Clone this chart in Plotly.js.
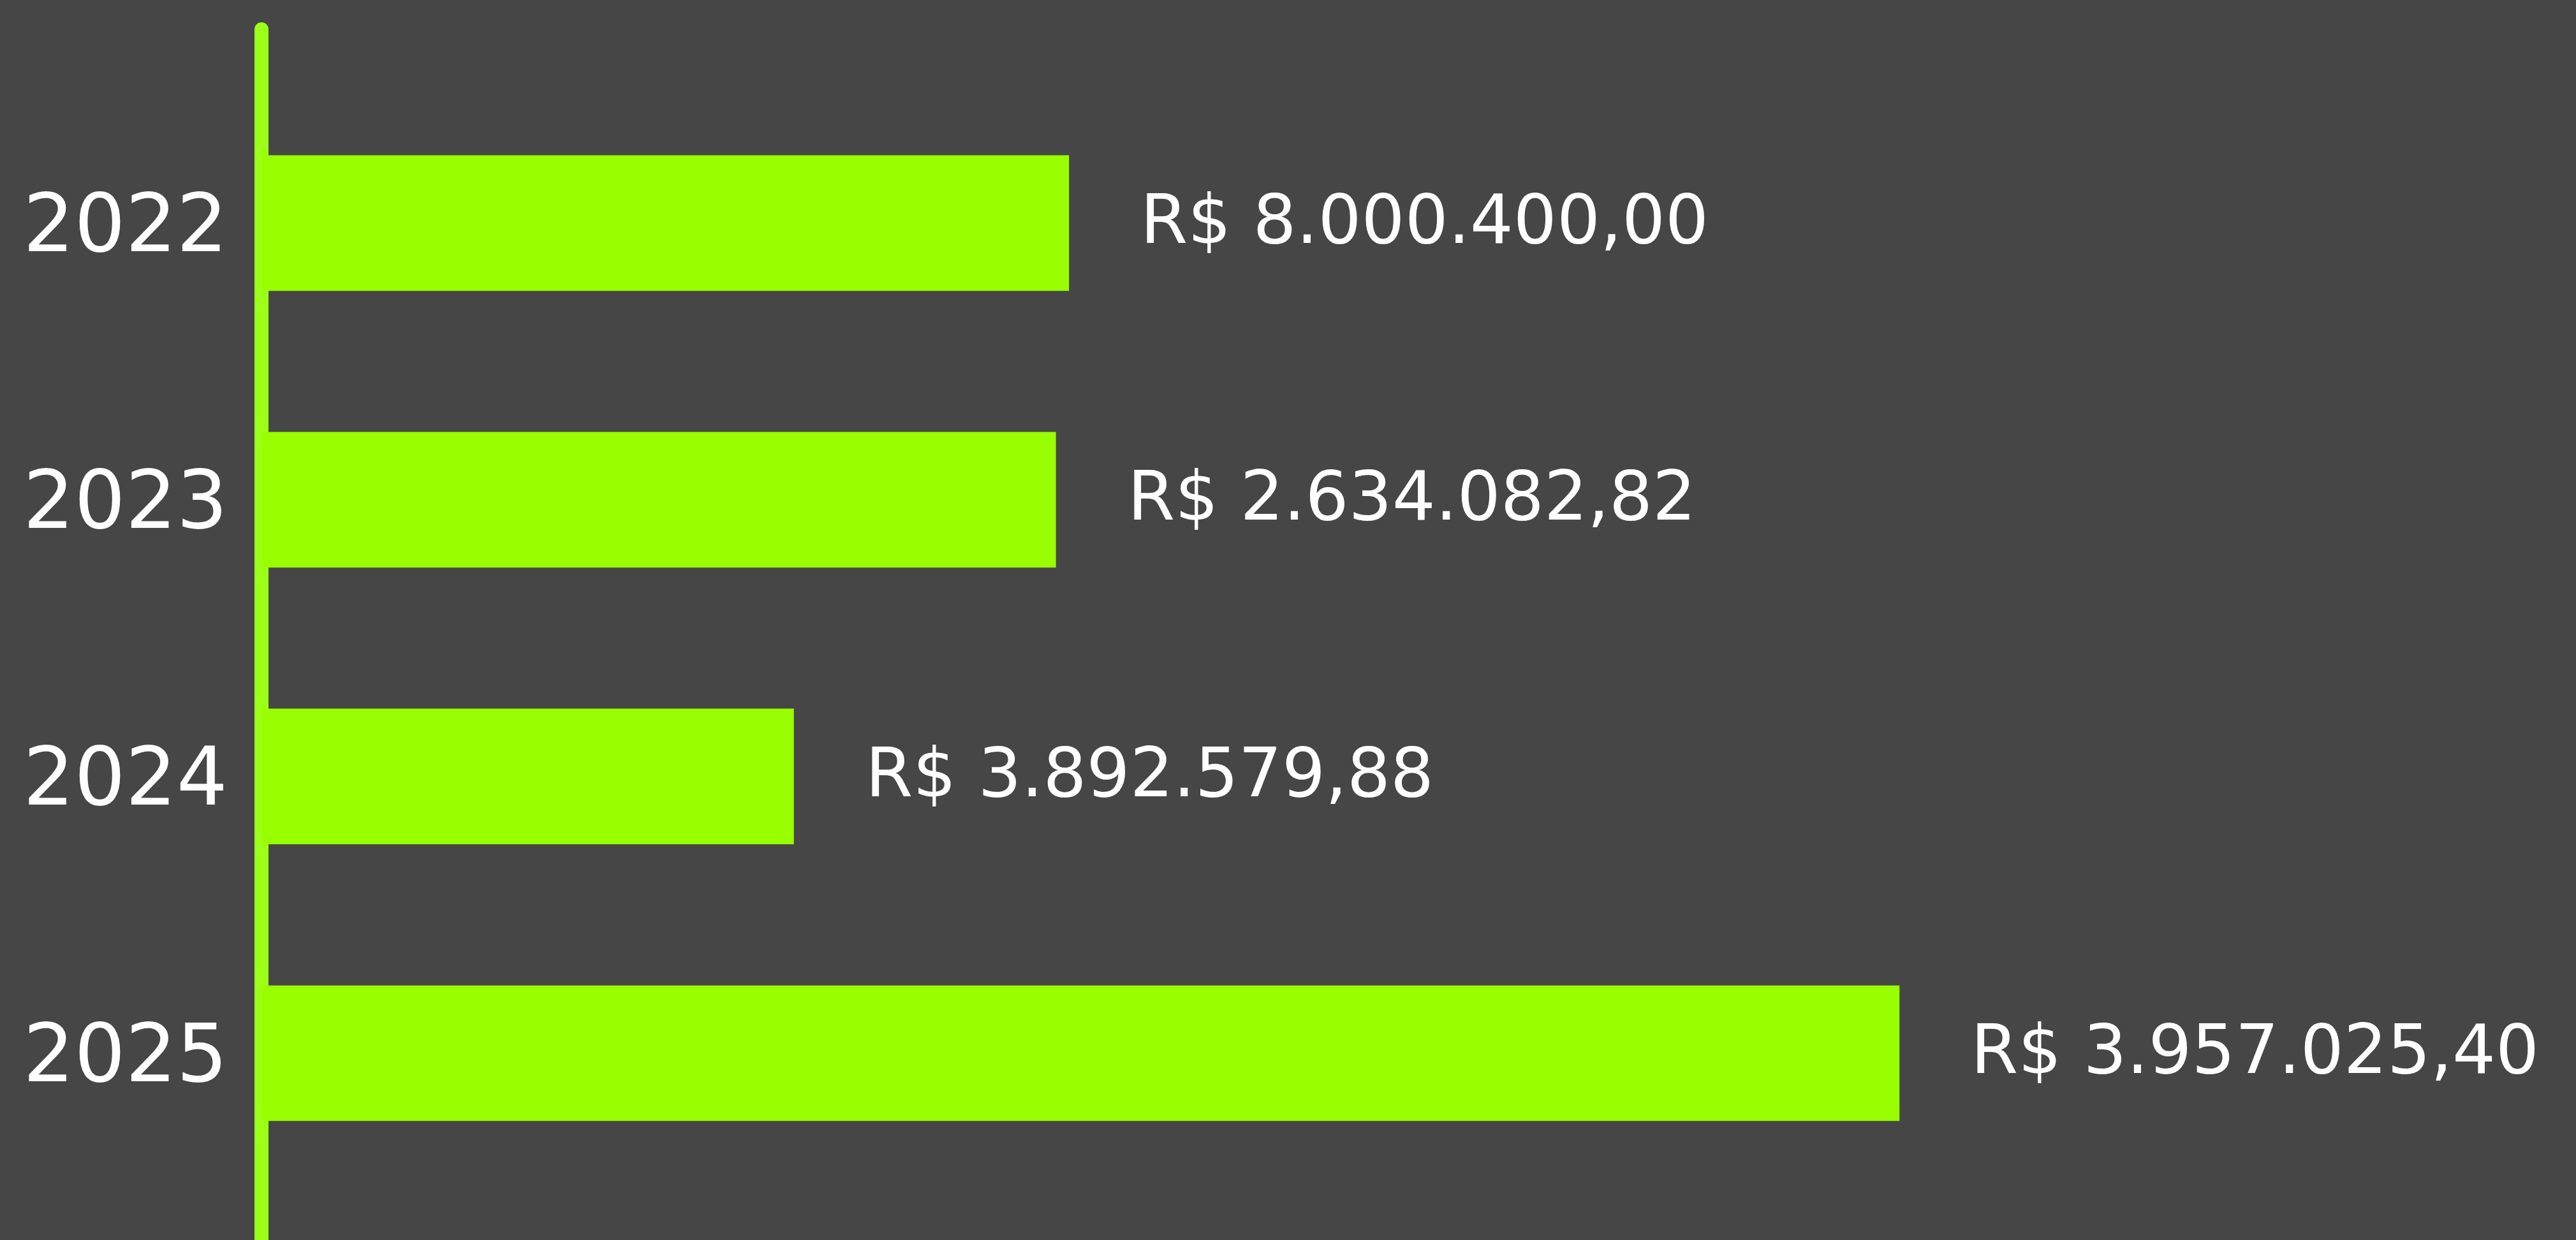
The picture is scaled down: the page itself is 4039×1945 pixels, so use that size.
<!DOCTYPE html>
<html>
<head>
<meta charset="utf-8">
<script src="https://cdn.plot.ly/plotly-3.0.1.min.js"></script>
<style>
  html, body { margin: 0; padding: 0; background: #464646; }
  #chart { width: 4039px; height: 1945px; }
</style>
</head>
<body>
<div id="chart"></div>
<script>
// Data
const years = ["2022", "2023", "2024", "2025"];
// bar lengths as drawn (relative units, 2025 = 10)
const barValues = [4.93, 4.85, 3.25, 10.0];
const valueLabels = [
  "R$ 8.000.400,00",
  "R$ 2.634.082,82",
  "R$ 3.892.579,88",
  "R$ 3.957.025,40"
];

const green = "#99ff00";
const lineGreen = "#9cff18";
const bg = "#464646";
const fontFamily = "DejaVu Sans, Noto Sans, sans-serif";

const trace = {
  type: "bar",
  orientation: "h",
  x: barValues,
  y: years,
  marker: { color: green, line: { width: 0 } },
  hoverinfo: "skip",
  showlegend: false
};

// annotations placed by category index (numeric-looking names would be read as positions)
const annotations = years.map((yr, i) => ({
  x: barValues[i],
  y: i,
  xref: "x",
  yref: "y",
  text: valueLabels[i],
  showarrow: false,
  xanchor: "left",
  yanchor: "middle",
  xshift: 110,
  yshift: 6,
  font: { family: fontFamily, size: 107, color: "#ffffff" }
}));

const layout = {
  width: 4039,
  height: 1945,
  paper_bgcolor: bg,
  plot_bgcolor: bg,
  margin: { l: 410, r: 0, t: 0, b: 0, pad: 0 },
  bargap: 0.51,
  xaxis: {
    range: [0, 14.13],
    showgrid: false,
    zeroline: false,
    showline: false,
    showticklabels: false,
    fixedrange: true
  },
  yaxis: {
    type: "category",
    categoryorder: "array",
    categoryarray: years,
    range: [3.675, -0.806],
    showgrid: false,
    zeroline: false,
    showline: false,
    ticks: "",
    ticklabelstandoff: 52,
    tickfont: { family: fontFamily, size: 126, color: "#ffffff" },
    fixedrange: true
  },
  shapes: [
    {
      type: "line",
      layer: "below",
      xref: "paper",
      yref: "y",
      x0: 0, x1: 0,
      y0: -0.70, y1: 3.8,
      line: { color: lineGreen, width: 22 }
    },
    {
      type: "circle",
      layer: "below",
      xref: "paper",
      yref: "y",
      xsizemode: "pixel",
      ysizemode: "pixel",
      xanchor: 0,
      yanchor: -0.70,
      x0: -11, x1: 11,
      y0: -11, y1: 11,
      fillcolor: lineGreen,
      line: { width: 0 }
    }
  ],
  annotations: annotations
};

Plotly.newPlot("chart", [trace], layout, { displayModeBar: false, staticPlot: true });
</script>
</body>
</html>
